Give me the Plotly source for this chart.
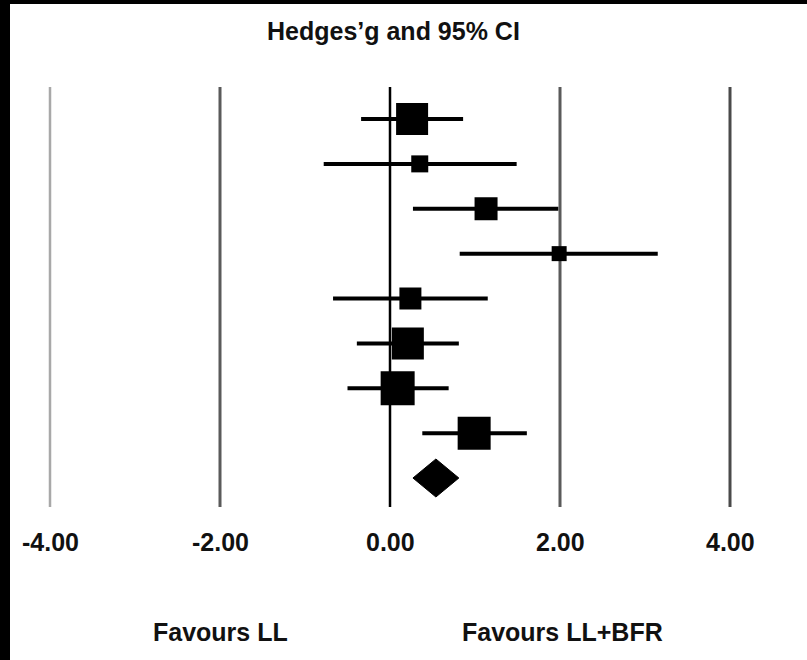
import plotly.graph_objects as go

# ---- data ----
g_est = [0.26, 0.35, 1.13, 1.99, 0.24, 0.21, 0.09, 0.99]
ci_low = [-0.34, -0.78, 0.27, 0.82, -0.67, -0.39, -0.50, 0.38]
ci_high = [0.86, 1.49, 1.98, 3.15, 1.15, 0.81, 0.69, 1.61]
weights = [32, 17, 23, 15, 22, 32, 34, 33]
summary_est = 0.54
summary_low = 0.27
summary_high = 0.81
tick_vals = [-4, -2, 0, 2, 4]
tick_labels = ["-4.00", "-2.00", "0.00", "2.00", "4.00"]
title_text = "Hedges’g and 95% CI"
left_label = "Favours LL"
right_label = "Favours LL+BFR"

# ---- geometry (pixel mapping) ----
W, H = 807, 660
ML, MR, MT, MB = 10, 0, 4, 0
X0, PXU = 390.0, 85.0      # pixel of x=0 and pixels per unit
Y0, RS = 119.0, 44.875     # pixel of first row and pixels per row
x_range = [(ML - X0) / PXU, (W - MR - X0) / PXU]
y_range = [(H - MB - Y0) / RS, (MT - Y0) / RS]

def py(p):
    return (p - Y0) / RS

FONT = "Liberation Sans, Arial, Helvetica, sans-serif"
FS = 25

fig = go.Figure()

grid_colors = ["#a8a8a8", "#5a5a5a", "#000000", "#5a5a5a", "#4a4a4a"]
grid_widths = [2.5, 3, 2.5, 3, 3]
for tv, gc, gw in zip(tick_vals, grid_colors, grid_widths):
    fig.add_trace(go.Scatter(x=[tv, tv], y=[py(87), py(507)], mode="lines",
                             line=dict(color=gc, width=gw), hoverinfo="skip",
                             showlegend=False))

rows = list(range(len(g_est)))
wmax = max(weights)
sizes = [34 * w / wmax for w in weights]
fig.add_trace(go.Scatter(
    x=g_est, y=rows, mode="markers",
    marker=dict(symbol="square", size=sizes, color="black", opacity=1,
                line=dict(width=0)),
    error_x=dict(type="data", symmetric=False,
                 array=[h - e for h, e in zip(ci_high, g_est)],
                 arrayminus=[e - l for e, l in zip(g_est, ci_low)],
                 thickness=4, width=0, color="black"),
    showlegend=False))

srow = len(g_est)
hh = 19 / RS
fig.add_trace(go.Scatter(
    x=[summary_low, summary_est, summary_high, summary_est, summary_low],
    y=[srow, srow - hh, srow, srow + hh, srow],
    mode="lines", fill="toself", fillcolor="black",
    line=dict(color="black", width=1), showlegend=False))

def txt(s):
    return "<b>" + s + "</b>"

for tv, tl in zip(tick_vals, tick_labels):
    fig.add_annotation(x=tv, y=py(542), text=txt(tl), showarrow=False,
                       font=dict(family=FONT, size=FS, color="#111111"),
                       xanchor="center", yanchor="middle")

fig.add_annotation(x=(393 - X0) / PXU, y=py(31), text=txt(title_text), showarrow=False,
                   font=dict(family=FONT, size=FS, color="#111111"),
                   xanchor="center", yanchor="middle")
fig.add_annotation(x=-2, y=py(632), text=txt(left_label), showarrow=False,
                   font=dict(family=FONT, size=FS, color="#111111"),
                   xanchor="center", yanchor="middle")
fig.add_annotation(x=2.03, y=py(632), text=txt(right_label), showarrow=False,
                   font=dict(family=FONT, size=FS, color="#111111"),
                   xanchor="center", yanchor="middle")

fig.update_layout(
    width=W, height=H,
    margin=dict(l=ML, r=MR, t=MT, b=MB, pad=0),
    paper_bgcolor="black", plot_bgcolor="white",
    xaxis=dict(range=x_range, visible=False, fixedrange=True),
    yaxis=dict(range=y_range, visible=False, fixedrange=True),
    showlegend=False,
)

fig.write_html("out.html",
               config={"displayModeBar": False},
               post_script="document.body.style.margin='0';document.body.style.background='black';")
